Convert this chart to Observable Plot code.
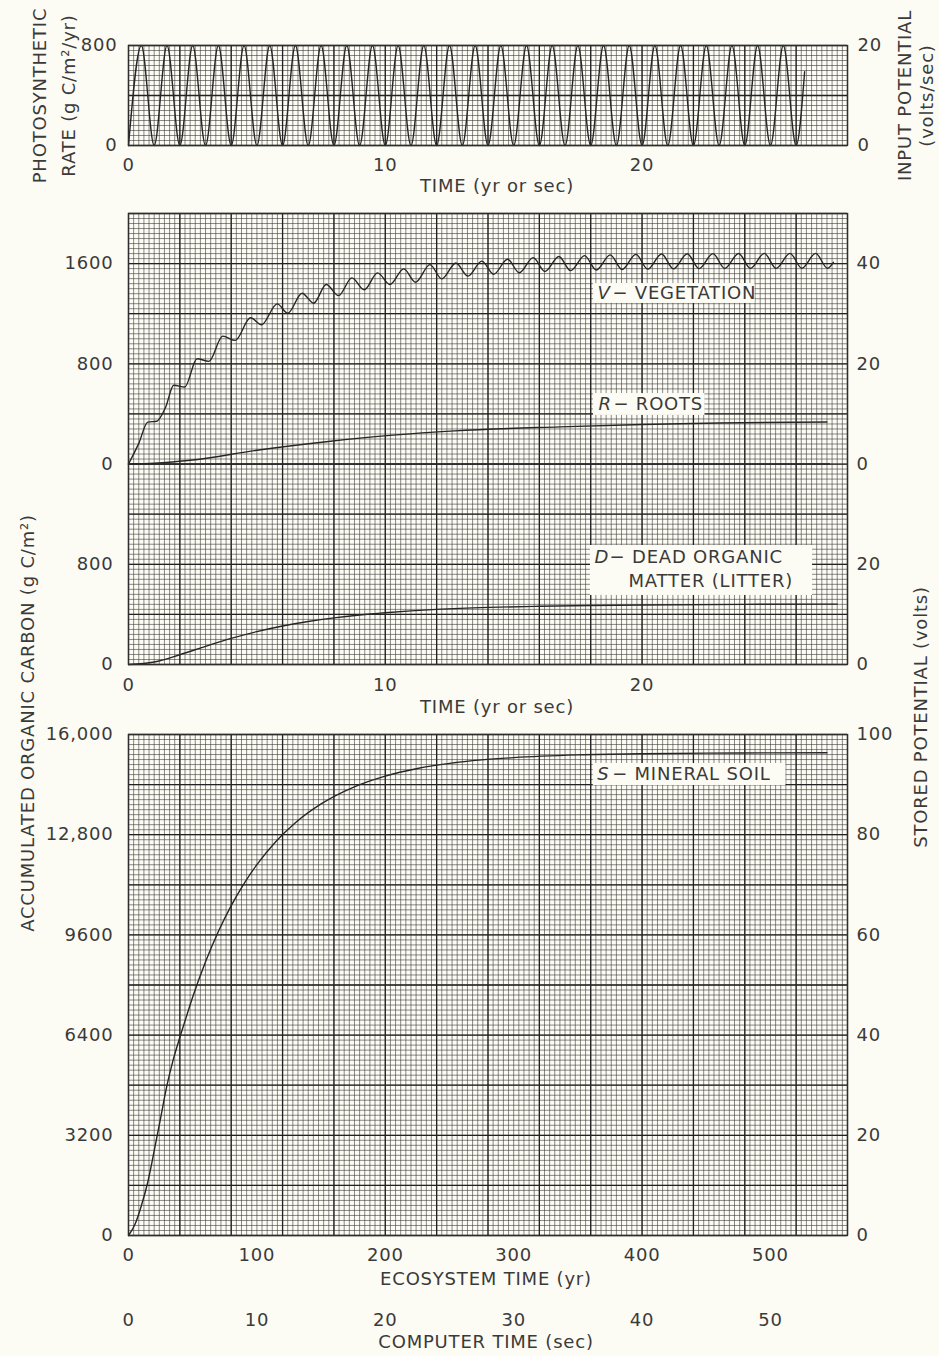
<!DOCTYPE html>
<html>
<head>
<meta charset="utf-8">
<script src="https://cdn.jsdelivr.net/npm/d3@7"></script>
<script src="https://cdn.jsdelivr.net/npm/@observablehq/plot@0.6"></script>
<style>
  html, body { margin: 0; padding: 0; background: #fdfcf4; }
  #chart { position: relative; width: 939px; height: 1356px; background: #fdfcf4; overflow: hidden; }
  #chart svg { position: absolute; left: 0; top: 0; overflow: visible; }
  #chart svg text { letter-spacing: 0.8px; }
</style>
</head>
<body>
<div id="chart"></div>
<script>
// ---------------- DATA ----------------
// Top panel: photosynthetic rate (g C/m2/yr), extrema
const photoT = [0,0.5,1,1.5,2,2.5,3,3.5,4,4.5,5,5.5,6,6.5,7,7.5,8,8.5,9,9.5,10,10.5,11,11.5,12,12.5,13,13.5,14,14.5,15,15.5,16,16.5,17,17.5,18,18.5,19,19.5,20,20.5,21,21.5,22,22.5,23,23.5,24,24.5,25,25.5,26,26.33];
const photoP = [0,800,0,800,0,800,0,800,0,800,0,800,0,800,0,800,0,800,0,800,0,800,0,800,0,800,0,800,0,800,0,800,0,800,0,800,0,800,0,800,0,800,0,800,0,800,0,800,0,800,0,800,0,590];

// Middle panel: V - vegetation (g C/m2)
const vegT = [0,0.4,0.75,1.1,1.45,1.76,2.19,2.67,3.13,3.67,4.16,4.75,5.18,5.79,6.2,6.76,7.21,7.7,8.18,8.7,9.18,9.7,10.18,10.72,11.18,11.74,12.2,12.75,13.22,13.76,14.22,14.76,15.22,15.76,16.22,16.76,17.22,17.76,18.22,18.76,19.22,19.76,20.22,20.76,21.22,21.76,22.22,22.76,23.22,23.76,24.22,24.76,25.22,25.76,26.22,26.76,27.22,27.45];
const vegV = [0,165,335,342,456,629,615,841,820,1021,987,1168,1112,1279,1204,1364,1284,1433,1345,1486,1391,1526,1433,1558,1451,1592,1478,1605,1500,1620,1515,1635,1527,1648,1537,1657,1544,1664,1549,1670,1553,1674,1556,1677,1558,1679,1560,1680,1561,1681,1562,1682,1562,1682,1563,1682,1563,1610];

// R - roots
const rootT = [0,1,2.5,5,7.7,10.3,12.7,16.8,20,23,27.2];
const rootR = [0,6,32,110,178,231,265,297,316,328,336];

// zero trace of the V/R channel
const baseT = [0,27.3];
const baseV = [0,0];

// D - dead organic matter (litter)
const deadT = [0,1,2,3,4,5,6,7,8,9,10,11,12,14,16,18,20,24,27.6];
const deadD = [0,20,78,145,208,262,307,343,372,395,413,428,440,456,465,471,475,480,482];

// Bottom panel: S - mineral soil vs ecosystem time (yr)
const soilT = [0,5,10,15,20,25,30,35,40,45,50,60,70,80,90,100,115,130,150,175,200,225,250,275,300,350,400,450,500,544];
const soilS = [0,350,950,1700,2700,3750,4800,5640,6330,6980,7615,8742,9709,10536,11241,11844,12593,13184,13784,14313,14671,14913,15077,15188,15262,15348,15387,15405,15413,15418];

// Tick labels
const topXTicks = [0,10,20];
const topYTicks = [0,800];
const topYLeft = ["0","800"];
const topYRight = ["0","20"];
const midXTicks = [0,10,20];
const midYTicks = [0,800,1600,2400,3200];
const midYLeft = ["0","800","0","800","1600"];
const midYRight = ["0","20","0","20","40"];
const botXTicks = [0,100,200,300,400,500];
const botXEco = ["0","100","200","300","400","500"];
const botXComp = ["0","10","20","30","40","50"];
const botYTicks = [0,3200,6400,9600,12800,16000];
const botYLeft = ["0","3200","6400","9600","12,800","16,000"];
const botYRight = ["0","20","40","60","80","100"];

// ---------------- STYLE ----------------
const bg = "#fdfcf4";
const ink = "#2e2e2e";
const W = 939, H = 1356;
const font = "'DejaVu Sans', sans-serif";
const zip2 = (a, b, kx, ky) => a.map((v, i) => ({[kx]: v, [ky]: b[i]}));
const fmt = (ticks, labels) => d => labels[ticks.indexOf(d)];

function grid(xmax, xfine, xheavy, ymax, yfine, yheavy) {
  const nx = Math.round(xmax / xfine), ny = Math.round(ymax / yfine);
  const fx = d3.range(nx + 1).map(i => i * xfine);
  const fy = d3.range(ny + 1).map(i => i * yfine);
  const hx = d3.range(Math.round(xmax / xheavy) + 1).map(i => i * xheavy);
  const hy = d3.range(Math.round(ymax / yheavy) + 1).map(i => i * yheavy);
  return [
    Plot.ruleX(fx, {stroke: "#3a3a3a", strokeWidth: 0.7, strokeOpacity: 0.85}),
    Plot.ruleY(fy, {stroke: "#3a3a3a", strokeWidth: 0.7, strokeOpacity: 0.85}),
    Plot.ruleX(hx, {stroke: "#222", strokeWidth: 1.3}),
    Plot.ruleY(hy, {stroke: "#222", strokeWidth: 1.3})
  ];
}
const common = {
  width: W, height: H, marginLeft: 128, marginRight: 92,
  style: {background: "transparent", fontFamily: font, fontSize: "18px", color: "#3a3a3a", overflow: "visible"}
};
const lineStyle = {stroke: "#262626", strokeWidth: 1.4, curve: "monotone-x"};
const titleStyle = {fill: "#3a3a3a", fontSize: 18};
const restDx = 15;

// ---------------- TOP PANEL ----------------
const plotTop = Plot.plot({
  ...common, marginTop: 45, marginBottom: H - 145,
  x: {domain: [0, 28]}, y: {domain: [0, 800]},
  marks: [
    ...grid(28, 0.2, 2, 800, 40, 400),
    Plot.line(zip2(photoT, photoP, "t", "p"), {x: "t", y: "p", ...lineStyle}),
    Plot.frame({stroke: ink, strokeWidth: 1.3}),
    Plot.axisY({anchor: "left", ticks: topYTicks, tickFormat: fmt(topYTicks, topYLeft), tickSize: 0, tickPadding: 11, label: null}),
    Plot.axisY({anchor: "right", ticks: topYTicks, tickFormat: fmt(topYTicks, topYRight), tickSize: 0, tickPadding: 10, label: null}),
    Plot.axisX({anchor: "bottom", ticks: topXTicks, tickSize: 0, tickPadding: 13, label: null}),
    Plot.text(["TIME (yr or sec)"], {text: d => d, frameAnchor: "bottom", lineAnchor: "middle", textAnchor: "middle", dx: 9, dy: 41, ...titleStyle}),
    Plot.text(["PHOTOSYNTHETIC\nRATE (g C/m²/yr)"], {text: d => d, frameAnchor: "left", rotate: -90, textAnchor: "middle", lineAnchor: "middle", lineHeight: 1.6, dx: -77, ...titleStyle}),
    Plot.text(["INPUT POTENTIAL\n(volts/sec)"], {text: d => d, frameAnchor: "right", rotate: -90, textAnchor: "middle", lineAnchor: "middle", lineHeight: 1.22, dx: 67, ...titleStyle})
  ]
});

// ---------------- MIDDLE PANEL ----------------
// Single stacked y frame: D uses 0..1600, V and R are offset by 1600 (their zero line)
const vOffset = 1600;
const midBoxes = [
  {x1: 18.11, x2: 24.40, y1: 2882, y2: 3041},
  {x1: 18.11, x2: 22.45, y1: 1988, y2: 2163},
  {x1: 17.99, x2: 26.64, y1: 551, y2: 950}
];
const midLabels = [
  {letter: "V", text: "− VEGETATION", x: 18.26, y: 2961},
  {letter: "R", text: "− ROOTS", x: 18.3, y: 2075},
  {letter: "D", text: "− DEAD ORGANIC", x: 18.15, y: 854}
];
const midLabel2 = [{text: "MATTER (LITTER)", x: 19.47, y: 663}];

const plotMid = Plot.plot({
  ...common, marginTop: 213, marginBottom: H - 664,
  x: {domain: [0, 28]}, y: {domain: [0, 3600]},
  marks: [
    ...grid(28, 0.2, 2, 3600, 40, 400),
    Plot.line(zip2(baseT, baseV, "t", "v"), {x: "t", y: d => d.v + vOffset, stroke: "#262626", strokeWidth: 1.4}),
    Plot.line(zip2(vegT, vegV, "t", "v"), {x: "t", y: d => d.v + vOffset, ...lineStyle}),
    Plot.line(zip2(rootT, rootR, "t", "v"), {x: "t", y: d => d.v + vOffset, ...lineStyle}),
    Plot.line(zip2(deadT, deadD, "t", "v"), {x: "t", y: "v", ...lineStyle}),
    Plot.rect(midBoxes, {x1: "x1", x2: "x2", y1: "y1", y2: "y2", fill: bg}),
    Plot.text(midLabels, {x: "x", y: "y", text: "letter", textAnchor: "start", fontStyle: "italic", ...titleStyle}),
    Plot.text(midLabels, {x: "x", y: "y", text: "text", textAnchor: "start", dx: restDx, ...titleStyle}),
    Plot.text(midLabel2, {x: "x", y: "y", text: "text", textAnchor: "start", ...titleStyle}),
    Plot.frame({stroke: ink, strokeWidth: 1.3}),
    Plot.axisY({anchor: "left", ticks: midYTicks, tickFormat: fmt(midYTicks, midYLeft), tickSize: 0, tickPadding: 15, label: null}),
    Plot.axisY({anchor: "right", ticks: midYTicks, tickFormat: fmt(midYTicks, midYRight), tickSize: 0, tickPadding: 9, label: null}),
    Plot.axisX({anchor: "bottom", ticks: midXTicks, tickSize: 0, tickPadding: 14, label: null}),
    Plot.text(["TIME (yr or sec)"], {text: d => d, frameAnchor: "bottom", lineAnchor: "middle", textAnchor: "middle", dx: 9, dy: 43, ...titleStyle})
  ]
});

// ---------------- BOTTOM PANEL ----------------
const botBoxes = [{x1: 362, x2: 512, y1: 14371, y2: 15074}];
const botLabels = [{letter: "S", text: "− MINERAL SOIL", x: 365, y: 14722}];

const plotBot = Plot.plot({
  ...common, marginTop: 734, marginBottom: H - 1235,
  x: {domain: [0, 560]}, y: {domain: [0, 16000]},
  marks: [
    ...grid(560, 4, 40, 16000, 160, 1600),
    Plot.line(zip2(soilT, soilS, "t", "s"), {x: "t", y: "s", ...lineStyle}),
    Plot.rect(botBoxes, {x1: "x1", x2: "x2", y1: "y1", y2: "y2", fill: bg}),
    Plot.text(botLabels, {x: "x", y: "y", text: "letter", textAnchor: "start", fontStyle: "italic", ...titleStyle}),
    Plot.text(botLabels, {x: "x", y: "y", text: "text", textAnchor: "start", dx: restDx, ...titleStyle}),
    Plot.frame({stroke: ink, strokeWidth: 1.3}),
    Plot.axisY({anchor: "left", ticks: botYTicks, tickFormat: fmt(botYTicks, botYLeft), tickSize: 0, tickPadding: 15, label: null}),
    Plot.axisY({anchor: "right", ticks: botYTicks, tickFormat: fmt(botYTicks, botYRight), tickSize: 0, tickPadding: 9, label: null}),
    Plot.axisX({anchor: "bottom", ticks: botXTicks, tickFormat: fmt(botXTicks, botXEco), tickSize: 0, tickPadding: 13, label: null}),
    Plot.axisX({anchor: "bottom", ticks: botXTicks, tickFormat: fmt(botXTicks, botXComp), tickSize: 0, tickPadding: 78, label: null}),
    Plot.text(["ECOSYSTEM TIME (yr)"], {text: d => d, frameAnchor: "bottom", lineAnchor: "middle", textAnchor: "middle", dx: -2, dy: 44, ...titleStyle}),
    Plot.text(["COMPUTER TIME (sec)"], {text: d => d, frameAnchor: "bottom", lineAnchor: "middle", textAnchor: "middle", dx: -2, dy: 107, ...titleStyle}),
    Plot.text(["ACCUMULATED ORGANIC CARBON (g C/m²)"], {text: d => d, frameAnchor: "left", rotate: -90, textAnchor: "middle", lineAnchor: "middle", dx: -100, dy: -262, ...titleStyle}),
    Plot.text(["STORED POTENTIAL (volts)"], {text: d => d, frameAnchor: "right", rotate: -90, textAnchor: "middle", lineAnchor: "middle", dx: 74, dy: -268, ...titleStyle})
  ]
});

document.getElementById("chart").append(plotTop, plotMid, plotBot);
</script>
</body>
</html>
